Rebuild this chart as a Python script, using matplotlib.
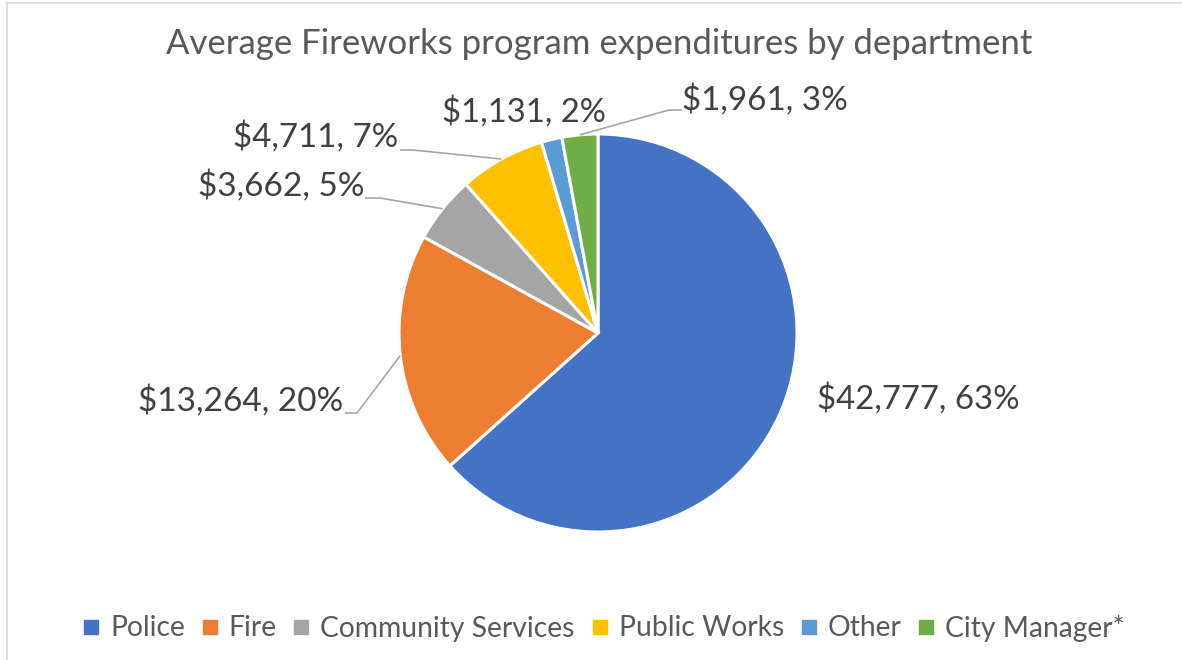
import matplotlib
matplotlib.use("Agg")
import matplotlib.pyplot as plt
from matplotlib.lines import Line2D
import numpy as np

plt.rcParams['font.family'] = ['Lato', 'DejaVu Sans']

# ---- data ----
departments = ["Police", "Fire", "Community Services", "Public Works", "Other", "City Manager*"]
expenditures = [42777, 13264, 3662, 4711, 1131, 1961]
percent_labels = ["63%", "20%", "5%", "7%", "2%", "3%"]
colors = ["#4472C4", "#ED7D31", "#A5A5A5", "#FFC000", "#5B9BD5", "#70AD47"]
title = "Average Fireworks program expenditures by department"

W, H = 1182, 660
fig = plt.figure(figsize=(W / 100, H / 100), dpi=100)
ax = fig.add_axes([0, 0, 1, 1])

def Y(y):
    return H - y

cx, cy, R = 598, Y(333), 199
wedges, _ = ax.pie(expenditures, colors=colors, startangle=90, counterclock=False,
                   center=(cx, cy), radius=R,
                   wedgeprops=dict(edgecolor="white", linewidth=2.2))
ax.set_xlim(0, W)
ax.set_ylim(0, H)
ax.set_aspect("equal")
ax.axis("off")

labels = [f"${v:,}, {p}" for v, p in zip(expenditures, percent_labels)]

# label layout: (x, baseline y, ha, target width, elbow points)
layout = [
    (817, 409, "left", 203, None),
    (343, 411, "right", 205, [(357, 413), (345, 413)]),
    (364, 196, "right", 167, [(380, 198), (365, 198)]),
    (398, 147, "right", 165, [(413, 150), (400, 150)]),
    (442, 122, "left", 163, None),
    (682, 110, "left", 166, [(669, 110), (682, 110)]),
]

texts = []
for w, lab, (x, y, ha, tw, elbow) in zip(wedges, labels, layout):
    t = ax.text(x, Y(y), lab, ha=ha, va="baseline", fontsize=22, color="#404040")
    texts.append((t, tw))
    if elbow is not None:
        mid = np.deg2rad((w.theta1 + w.theta2) / 2)
        px, py = cx + R * np.cos(mid), cy + R * np.sin(mid)
        xs = [px] + [e[0] for e in elbow]
        ys = [py] + [Y(e[1]) for e in elbow]
        ax.plot(xs, ys, color="#A6A6A6", lw=1.2, solid_capstyle="butt")

tt = ax.text(599, Y(54), title, ha="center", va="baseline", fontsize=22, color="#595959")
texts.append((tt, 862))

# fit text widths
fig.canvas.draw()
r = fig.canvas.get_renderer()
for t, tw in texts:
    bw = t.get_window_extent(r).width
    t.set_fontsize(t.get_fontsize() * tw / bw)

handles = [Line2D([], [], marker="s", linestyle="none", markersize=9.5,
                  markerfacecolor=c, markeredgecolor=c) for c in colors]

def make_legend(fs):
    return fig.legend(handles, departments, ncol=6, loc="center",
                      bbox_to_anchor=(604 / W, 1 - 628 / H), frameon=False,
                      fontsize=fs, handlelength=0.55, handletextpad=0.4,
                      columnspacing=0.6, labelcolor="#595959", borderpad=0)

fs = 20
leg = make_legend(fs)
for _ in range(2):
    fig.canvas.draw()
    lw = leg.get_window_extent(r).width
    fs = fs * 1042 / lw
    leg.remove()
    leg = make_legend(fs)

# light border of the chart area
fig.add_artist(Line2D([7 / W, 7 / W], [0, 1 - 3 / H], color="#D9D9D9", lw=1.2, transform=fig.transFigure))
fig.add_artist(Line2D([7 / W, 1], [1 - 3 / H, 1 - 3 / H], color="#D9D9D9", lw=1.2, transform=fig.transFigure))

fig.savefig("out.png", dpi=100, facecolor="white")
